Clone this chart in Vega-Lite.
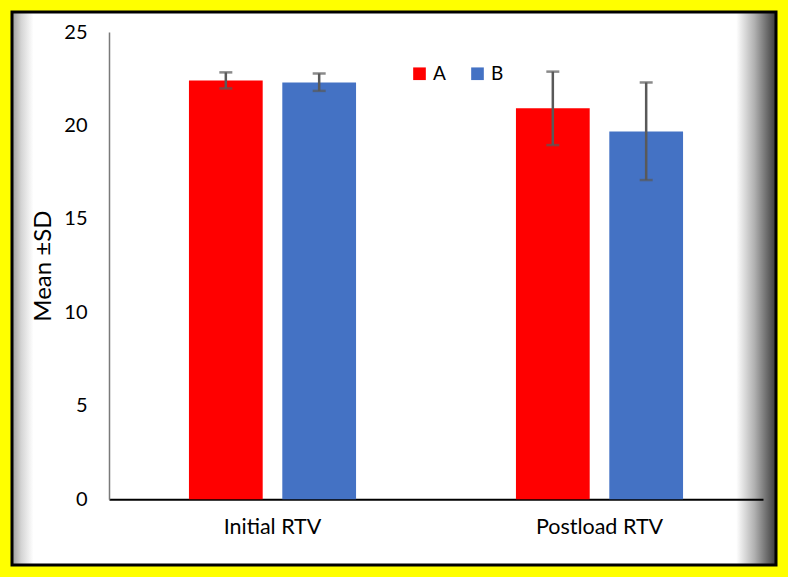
{
  "$schema": "https://vega.github.io/schema/vega-lite/v6.json",
  "width": 764,
  "height": 553,
  "autosize": {"type": "none"},
  "padding": {"left": 12, "top": 12, "right": 12, "bottom": 12},
  "background": "#ffff00",
  "view": {
    "fill": {
      "gradient": "linear",
      "x1": 0, "y1": 0, "x2": 1, "y2": 0,
      "stops": [
        {"offset": 0, "color": "#9a9a9a"},
        {"offset": 0.012, "color": "#d4d4d4"},
        {"offset": 0.028, "color": "#ffffff"},
        {"offset": 0.948, "color": "#ffffff"},
        {"offset": 0.972, "color": "#b0b0b0"},
        {"offset": 1, "color": "#3a3a3a"}
      ]
    },
    "stroke": "#000000",
    "strokeWidth": 3
  },
  "config": {
    "font": "Lato",
    "axis": {"grid": false}
  },
  "data": {
    "values": [
      {"test": "Initial RTV", "group": "A", "mean": 22.4, "lo": 21.98, "hi": 22.84},
      {"test": "Initial RTV", "group": "B", "mean": 22.3, "lo": 21.85, "hi": 22.78},
      {"test": "Postload RTV", "group": "A", "mean": 20.92, "lo": 18.95, "hi": 22.88},
      {"test": "Postload RTV", "group": "B", "mean": 19.68, "lo": 17.08, "hi": 22.3}
    ]
  },
  "encoding": {
    "x": {
      "field": "test",
      "type": "nominal",
      "scale": {"range": [97, 751], "paddingInner": 0.489, "paddingOuter": 0.2445},
      "axis": {
        "title": null,
        "labelAngle": 0,
        "labelFontSize": 21.5,
        "labelColor": "#000000",
        "labelPadding": 17,
        "ticks": false,
        "tickSize": 0,
        "domainColor": "#000000",
        "domainWidth": 2,
        "offset": -65.7
      }
    },
    "xOffset": {"field": "group", "type": "nominal", "scale": {"paddingInner": 0.21}}
  },
  "layer": [
    {
      "mark": {"type": "bar"},
      "encoding": {
        "y": {
          "field": "mean",
          "type": "quantitative",
          "scale": {"domain": [0, 25], "range": [487.3, 20], "nice": false},
          "axis": {
            "title": "Mean ±SD",
            "titleFontSize": 24,
            "titleFontWeight": "normal",
            "titleColor": "#000000",
            "titlePadding": 8,
            "values": [0, 5, 10, 15, 20, 25],
            "labelFontSize": 20,
            "labelColor": "#000000",
            "labelPadding": 22,
            "ticks": false,
            "tickSize": 0,
            "domainColor": "#7a7a7a",
            "domainWidth": 1.5,
            "offset": -97
          }
        },
        "color": {
          "field": "group",
          "type": "nominal",
          "scale": {"domain": ["A", "B"], "range": ["#ff0000", "#4472c4"]},
          "legend": {
            "title": null,
            "orient": "none",
            "direction": "horizontal",
            "legendX": 398,
            "legendY": 52,
            "symbolType": "square",
            "symbolSize": 160,
            "symbolStrokeWidth": 0,
            "labelFontSize": 19,
            "labelColor": "#000000",
            "labelOffset": 4,
            "columnPadding": 22,
            "padding": 0
          }
        }
      }
    },
    {
      "mark": {"type": "rule", "color": "#595959", "strokeWidth": 2.5},
      "encoding": {
        "y": {"field": "lo", "type": "quantitative"},
        "y2": {"field": "hi"}
      }
    },
    {
      "mark": {"type": "tick", "color": "#595959", "thickness": 2.5, "size": 13},
      "encoding": {"y": {"field": "lo", "type": "quantitative"}}
    },
    {
      "mark": {"type": "tick", "color": "#595959", "thickness": 2.5, "size": 13},
      "encoding": {"y": {"field": "hi", "type": "quantitative"}}
    }
  ]
}
